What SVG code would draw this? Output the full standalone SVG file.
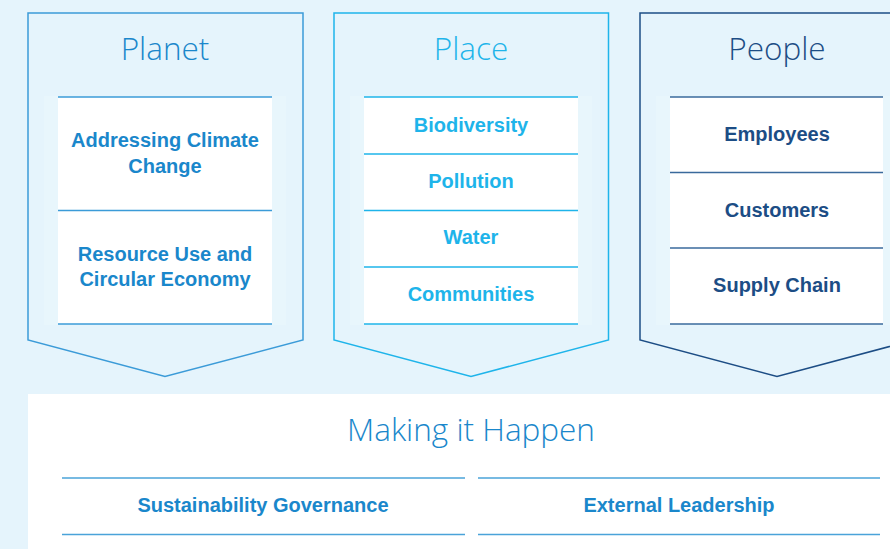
<svg xmlns="http://www.w3.org/2000/svg" width="890" height="549" viewBox="0 0 890 549">
  <style>
    .title { font-family: "Open Sans", "Noto Sans", sans-serif; font-weight: 300; font-size: 31.5px; text-anchor: middle; }
    .label { font-family: "Liberation Sans", Arial, sans-serif; font-weight: bold; font-size: 20px; text-anchor: middle; }
    .frame { fill: none; stroke-width: 1.5; }
    .rule { stroke-width: 1.5; fill: none; }
    .glow { fill: #e8f6fc; }
    .card { fill: #ffffff; }
    .planet { fill: #1a87cb; }
    .place { fill: #1eb4ea; }
    .people { fill: #1c4d85; }
  </style>
  <rect x="0" y="0" width="890" height="549" fill="#e5f4fc"/>

  <g id="planet">
    <path class="frame" stroke="#3b9bd8" d="M28,13 H303 V340 L165,376.5 L28,340 Z"/>
    <text class="title planet" x="165" y="59.5">Planet</text>
    <rect class="glow" x="44" y="96" width="242" height="229"/>
    <rect class="card" x="58" y="97" width="214" height="227"/>
    <g class="rule" stroke="#3b9bd8">
      <line x1="58" y1="97" x2="272" y2="97"/>
      <line x1="58" y1="210.5" x2="272" y2="210.5"/>
      <line x1="58" y1="324" x2="272" y2="324"/>
    </g>
    <text class="label planet" x="165" y="147">Addressing Climate</text>
    <text class="label planet" x="165" y="173">Change</text>
    <text class="label planet" x="165" y="261">Resource Use and</text>
    <text class="label planet" x="165" y="286">Circular Economy</text>
  </g>

  <g id="place">
    <path class="frame" stroke="#1eb4ea" d="M334,13 H608.5 V340 L471,376.5 L334,340 Z"/>
    <text class="title place" x="471" y="59.5">Place</text>
    <rect class="glow" x="350" y="96" width="242" height="229"/>
    <rect class="card" x="364" y="97" width="214" height="227"/>
    <g class="rule" stroke="#1eb4ea">
      <line x1="364" y1="97" x2="578" y2="97"/>
      <line x1="364" y1="154" x2="578" y2="154"/>
      <line x1="364" y1="210.5" x2="578" y2="210.5"/>
      <line x1="364" y1="267" x2="578" y2="267"/>
      <line x1="364" y1="324" x2="578" y2="324"/>
    </g>
    <text class="label place" x="471" y="132">Biodiversity</text>
    <text class="label place" x="471" y="188">Pollution</text>
    <text class="label place" x="471" y="244">Water</text>
    <text class="label place" x="471" y="301">Communities</text>
  </g>

  <g id="people">
    <path class="frame" stroke="#1c4d85" d="M640,13 H914 V340 L777,376.5 L640,340 Z"/>
    <text class="title people" x="777" y="59.5">People</text>
    <rect class="glow" x="656" y="96" width="242" height="229"/>
    <rect class="card" x="670" y="97" width="213" height="227"/>
    <g class="rule" stroke="#3a6a9c">
      <line x1="670" y1="97" x2="883" y2="97"/>
      <line x1="670" y1="172.5" x2="883" y2="172.5"/>
      <line x1="670" y1="248" x2="883" y2="248"/>
      <line x1="670" y1="324" x2="883" y2="324"/>
    </g>
    <text class="label people" x="777" y="141">Employees</text>
    <text class="label people" x="777" y="217">Customers</text>
    <text class="label people" x="777" y="292">Supply Chain</text>
  </g>

  <g id="making-it-happen">
    <rect class="card" x="28" y="394" width="862" height="155"/>
    <text class="title planet" x="471" y="440.5">Making it Happen</text>
    <g class="rule" stroke="#4aa3d9">
      <line x1="62" y1="478" x2="465" y2="478"/>
      <line x1="62" y1="534.5" x2="465" y2="534.5"/>
      <line x1="478" y1="478" x2="880" y2="478"/>
      <line x1="478" y1="534.5" x2="880" y2="534.5"/>
    </g>
    <text class="label planet" x="263" y="512">Sustainability Governance</text>
    <text class="label planet" x="679" y="512">External Leadership</text>
  </g>
</svg>
